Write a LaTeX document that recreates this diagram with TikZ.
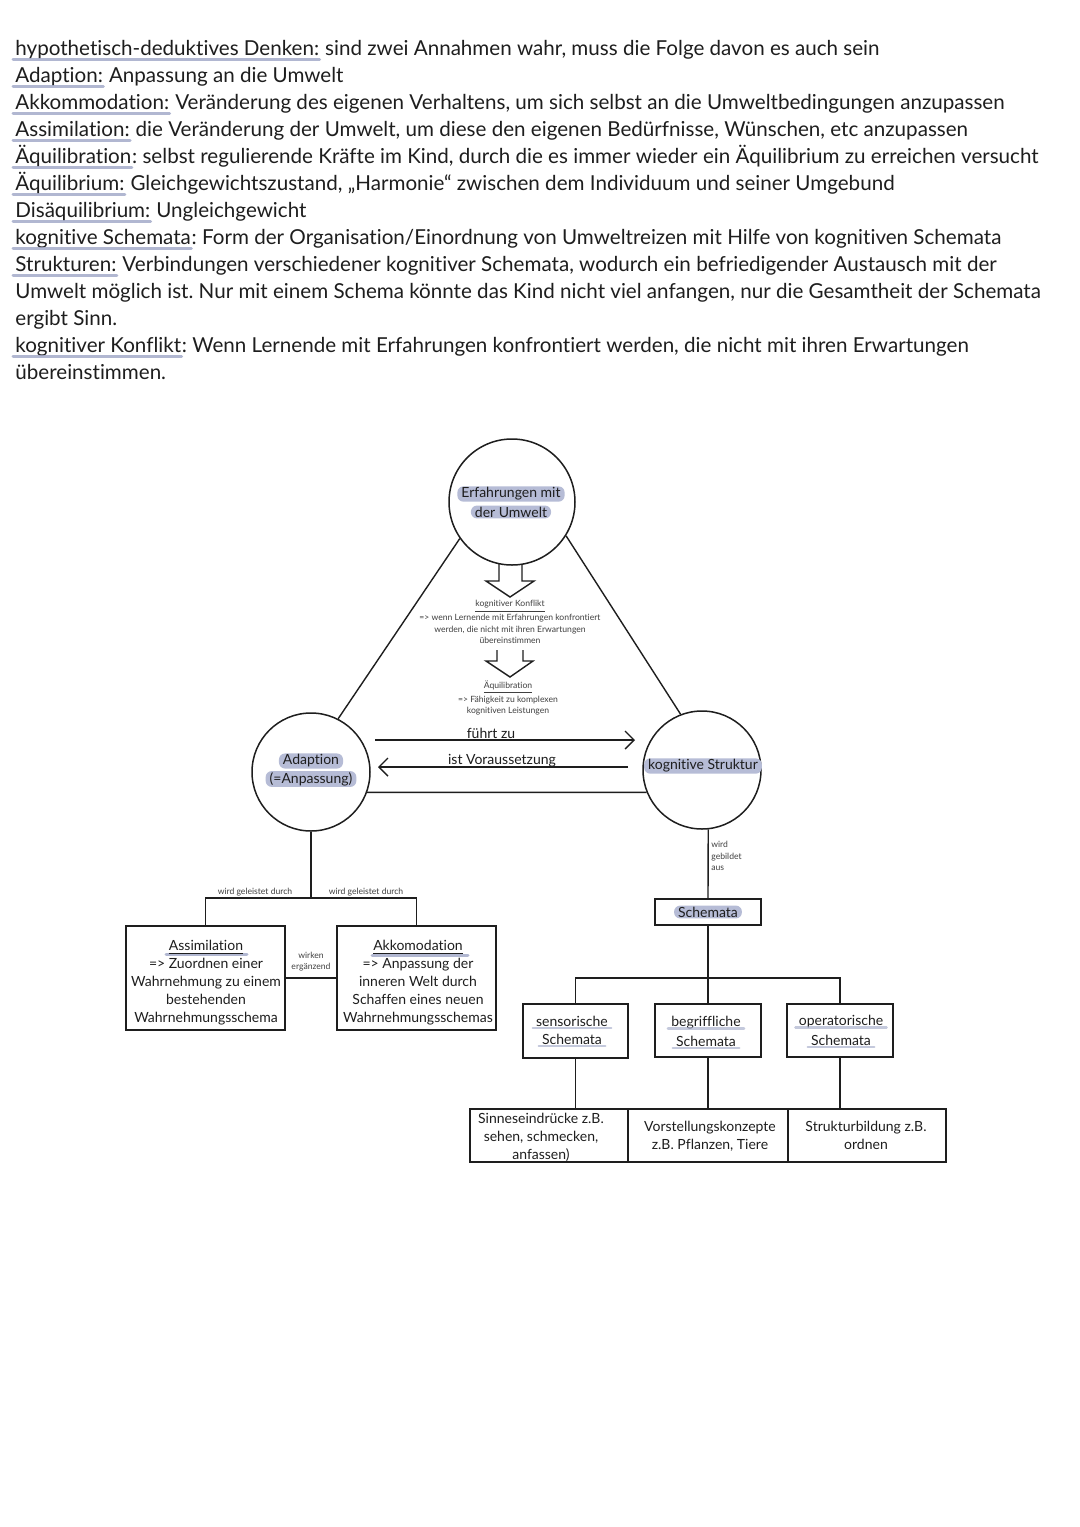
\documentclass[tikz,border=0pt]{standalone}
\usepackage{fontspec}
\setmainfont{Lato}[Ligatures=NoCommon]
\usetikzlibrary{arrows.meta}
\frenchspacing
\definecolor{ink}{HTML}{1E1E1E}
\definecolor{hl}{HTML}{9EA5C6}
\definecolor{hlbg}{HTML}{B6BCD6}
\newcommand\deffont{\fontsize{10.3}{12}\selectfont}
\newcommand\midfont{\fontsize{7}{9}\selectfont}
\newcommand\tinyfont{\fontsize{4.3}{5.8}\selectfont}
\newcommand\defline[4]{%
  \node[deftxt] (#1a) at (15,#2) {#3};
  \node[deftxt] (#1b) at (#1a.base east) {#4};
  \draw[hlu] ([xshift=-1pt,yshift=-2pt]#1a.base west) -- ([yshift=-2pt]#1a.base east);
}
\begin{document}
\begin{tikzpicture}[x=0.5pt,y=-0.5pt,
  deftxt/.style={inner sep=0pt, anchor=base west, font=\deffont, text=ink},
  hlu/.style={draw=hl, line width=1.5pt, line cap=round, opacity=0.8},
  ln/.style={draw=ink, line width=0.7pt},
  circ/.style={circle, draw=ink, line width=0.75pt, inner sep=0pt},
  hlnode/.style={fill=hlbg, rounded corners=3pt, inner xsep=2pt, inner ysep=0.6pt, font=\midfont, text=ink},
  mtxt/.style={font=\midfont, text=ink, inner sep=0pt, align=center},
  ttxt/.style={font=\tinyfont, text=ink!85, inner sep=0pt, align=center},
  box/.style={draw=ink, line width=0.75pt, inner sep=0pt, align=center, font=\midfont, text=ink},
  barb/.style={-{Straight Barb[length=4.5pt,width=9pt,line width=0.7pt]}}
]
\fill[white] (0,0) rectangle (1080,1527);
\useasboundingbox (0,0) rectangle (1080,1527);

% ---------- definitions ----------
\defline{d1}{55}{hypothetisch-deduktives Denken:}{\ sind zwei Annahmen wahr, muss die Folge davon es auch sein}
\defline{d2}{82}{Adaption:}{\ Anpassung an die Umwelt}
\defline{d3}{109}{Akkommodation:}{\ Veränderung des eigenen Verhaltens, um sich selbst an die Umweltbedingungen anzupassen}
\defline{d4}{136}{Assimilation:}{\ die Veränderung der Umwelt, um diese den eigenen Bedürfnisse, Wünschen, etc anzupassen}
\defline{d5}{163}{Äquilibration}{: selbst regulierende Kräfte im Kind, durch die es immer wieder ein Äquilibrium zu erreichen versucht}
\defline{d6}{190}{Äquilibrium:}{\ Gleichgewichtszustand, „Harmonie“ zwischen dem Individuum und seiner Umgebund}
\defline{d7}{217}{Disäquilibrium:}{\ Ungleichgewicht}
\defline{d8}{244}{kognitive Schemata}{: Form der Organisation/Einordnung von Umweltreizen mit Hilfe von kognitiven Schemata}
\defline{d9}{271}{Strukturen:}{\ Verbindungen verschiedener kognitiver Schemata, wodurch ein befriedigender Austausch mit der}
\node[deftxt] (d10) at (15,298) {Umwelt möglich ist. Nur mit einem Schema könnte das Kind nicht viel anfangen, nur die Gesamtheit der Schemata};
\node[deftxt] (d11) at (15,325) {ergibt Sinn.};
\defline{d12}{352}{kognitiver Konflikt}{: Wenn Lernende mit Erfahrungen konfrontiert werden, die nicht mit ihren Erwartungen}
\node[deftxt] (d13) at (15,379) {übereinstimmen.};

% ---------- circles ----------
\node[circ, minimum size=63pt] (erf) at (512,502) {};
\node[hlnode] (erf1) at (511,494) {Erfahrungen mit};
\node[hlnode] (erf2) at (511,512) {der Umwelt};
\node[circ, minimum size=59pt] (adp) at (311,772) {};
\node[hlnode] (adp1) at (311,761) {Adaption};
\node[hlnode] (adp2) at (311,779) {(=Anpassung)};
\node[circ, minimum size=59pt] (kst) at (702,770) {};
\node[hlnode] (kst1) at (703,766) {kognitive Struktur};

\draw[ln] (erf.215) -- (adp.63);
\draw[ln] (erf.328) -- (kst.111);

% ---------- block arrows ----------
\draw[ln, line join=miter] (499,563) -- (499,581) -- (486,581) -- (510,597) -- (534,581) -- (522,581) -- (522,564);
\draw[ln, line join=miter] (497,650) -- (497,661) -- (486,661) -- (510,677) -- (533,661) -- (523,661) -- (523,650);

\node[ttxt] (konf) at (510,622) {\underline{kognitiver Konflikt}\\=> wenn Lernende mit Erfahrungen konfrontiert\\werden, die nicht mit ihren Erwartungen\\übereinstimmen};
\node[ttxt] (aequ) at (508,698) {\underline{Äquilibration}\\=> Fähigkeit zu komplexen\\kognitiven Leistungen};

% ---------- horizontal arrows ----------
\coordinate (fz1) at (375,740);
\coordinate (fz2) at (635,740);
\draw[ln, barb] (fz1) -- (fz2);
\node[mtxt] (fzl) at (491,733) {führt zu};
\coordinate (iv1) at (628,767);
\coordinate (iv2) at (378,767);
\draw[ln, barb] (iv1) -- (iv2);
\node[mtxt] (ivl) at (502,761) {ist Voraussetzung};
\draw[ln] (adp.340) -- (kst.202);

% ---------- left tree ----------
\draw[hlu] (166,954) -- (247,954);
\draw[hlu] (372,955) -- (468,955);
\node[box, minimum width=79.5pt, minimum height=52pt] (asm) at (205.5,978) {};
\node[box, minimum width=79.5pt, minimum height=52pt] (akk) at (416.5,978) {};
\node[mtxt] (asmt) at (206,983) {\underline{Assimilation}\\=> Zuordnen einer\\Wahrnehmung zu einem\\bestehenden\\Wahrnehmungsschema};
\node[mtxt] (akkt) at (418,983) {\underline{Akkomodation}\\=> Anpassung der\\inneren Welt durch\\Schaffen eines neuen\\Wahrnehmungsschemas};
\coordinate (lj) at (311,898);
\draw[ln] (adp.south) -- (lj);
\draw[ln] (asm.north) |- (lj) -| (akk.north);
\node[ttxt, anchor=south] (wg1) at (255,896) {wird geleistet durch};
\node[ttxt, anchor=south] (wg2) at (366,896) {wird geleistet durch};
\draw[ln] (asm.east) -- (akk.west) node[midway, above=3pt, ttxt] (wk) {wirken\\ergänzend};

% ---------- right tree ----------
\node[box, minimum width=53pt, minimum height=13pt] (sch) at (708,912) {};
\node[hlnode] (sch1) at (708,912) {Schemata};
\draw[ln] (kst.-84) -- (sch.north);
\node[ttxt, anchor=north west, align=left] (wga) at (711,841) {wird\\gebildet\\aus};

\node[box, minimum width=52.5pt, minimum height=27pt] (sen) at (575.5,1031) {};
\node[box, minimum width=53pt, minimum height=26.5pt] (beg) at (708,1030.5) {};
\node[box, minimum width=53pt, minimum height=26.5pt] (ope) at (840,1030.5) {};
\coordinate (rj) at (708,978);
\draw[ln] (sch.south) -- (beg.north);
\draw[ln] (sen.north) |- (rj) -| (ope.north);

\node[mtxt] (sen1) at (572,1021) {sensorische};
\node[mtxt] (sen2) at (572,1039) {Schemata};
\node[mtxt] (beg1) at (706,1023) {begriffliche};
\node[mtxt] (beg2) at (706,1041) {Schemata};
\node[mtxt] (ope1) at (841,1022) {operatorische};
\node[mtxt] (ope2) at (841,1040) {Schemata};
\foreach \n in {sen1,sen2,beg1,beg2,ope1,ope2}{
  \draw[hlu, line width=1.2pt, opacity=0.6] ([xshift=-1.5pt,yshift=-0.8pt]\n.base west) -- ([xshift=1.5pt,yshift=-0.8pt]\n.base east);
}

\node[box, minimum width=79pt, minimum height=26.5pt] (sin) at (549,1135.5) {};
\node[box, minimum width=80pt, minimum height=26.5pt] (vor) at (708,1135.5) {};
\node[box, minimum width=79pt, minimum height=26.5pt] (str) at (867,1135.5) {};
\node[mtxt, text depth=0pt] (sint) at (541,1136) {Sinneseindrücke z.B.\\sehen, schmecken,\\anfassen)};
\node[mtxt] (vort) at (710,1136) {Vorstellungskonzepte\\z.B. Pflanzen, Tiere};
\node[mtxt] (strt) at (866,1135) {Strukturbildung z.B.\\ordnen};
\draw[ln] (sen.south) -- (sen.south |- sin.north);
\draw[ln] (beg.south) -- (vor.north);
\draw[ln] (ope.south) -- (ope.south |- str.north);
\end{tikzpicture}
\end{document}
